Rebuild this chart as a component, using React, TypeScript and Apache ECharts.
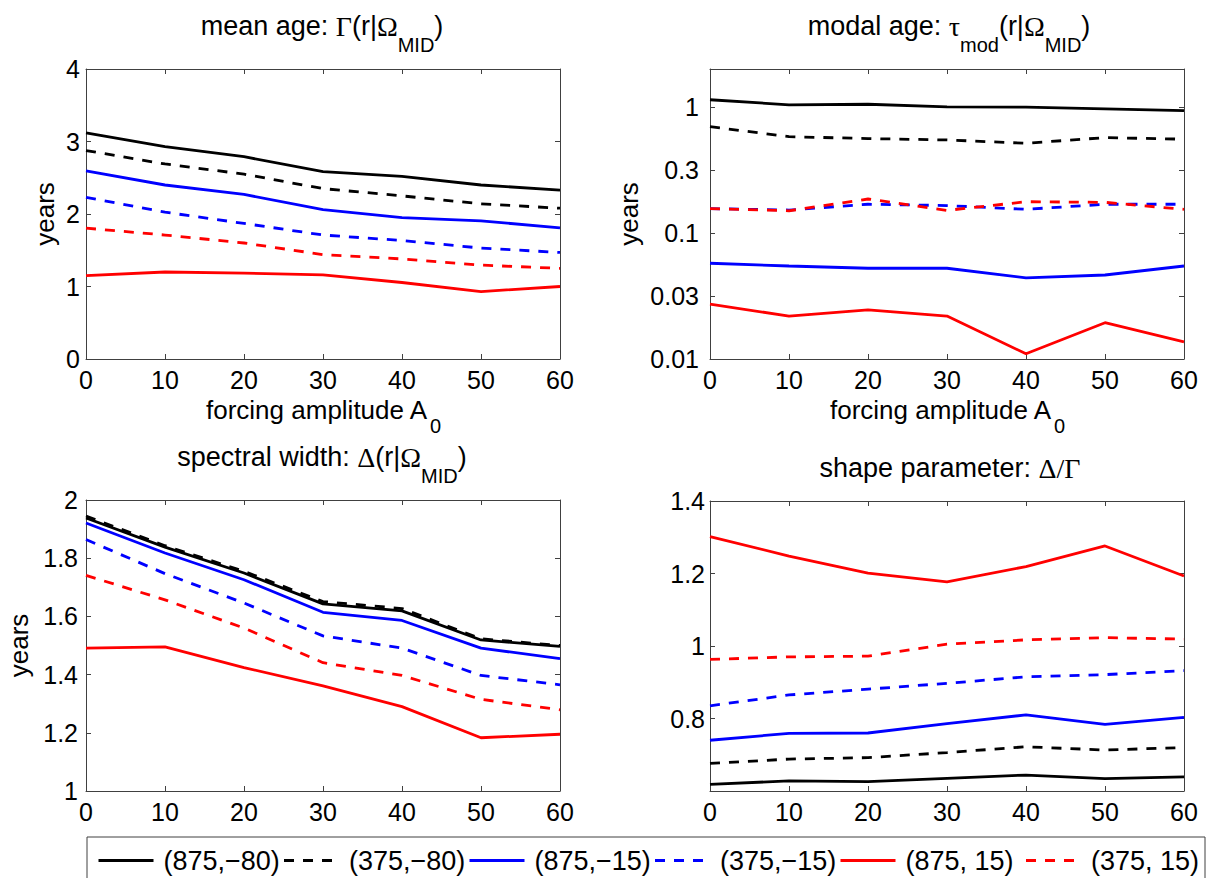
import React, { useEffect, useRef } from 'react';
import * as echarts from 'echarts';

// forcing amplitude A0 (x values shared by all panels)
const amplitudes = [0, 10, 20, 30, 40, 50, 60];

// legend entries (order of plotting)
const seriesNames = ['(875,−80)', '(375,−80)', '(875,−15)', '(375,−15)', '(875, 15)', '(375, 15)'];
const seriesColors = ['#000000', '#000000', '#0000ff', '#0000ff', '#ff0000', '#ff0000'];
const seriesDashed = [false, true, false, true, false, true];

// panel 1: mean age (years)
const meanAge = [
  [3.12, 2.93, 2.79, 2.585, 2.52, 2.40, 2.33],
  [2.875, 2.69, 2.55, 2.35, 2.25, 2.14, 2.08],
  [2.595, 2.40, 2.27, 2.06, 1.95, 1.905, 1.81],
  [2.23, 2.025, 1.87, 1.71, 1.635, 1.53, 1.47],
  [1.15, 1.20, 1.185, 1.16, 1.055, 0.93, 1.00],
  [1.805, 1.71, 1.60, 1.44, 1.38, 1.295, 1.25],
];

// panel 2: modal age (years, log scale)
const modalAge = [
  [1.14, 1.04, 1.05, 1.0, 0.995, 0.965, 0.935],
  [0.698, 0.581, 0.561, 0.547, 0.515, 0.571, 0.555],
  [0.0575, 0.0547, 0.0525, 0.0525, 0.044, 0.0464, 0.0547],
  [0.156, 0.152, 0.169, 0.165, 0.154, 0.169, 0.169],
  [0.0272, 0.0219, 0.0245, 0.0219, 0.011, 0.0194, 0.0137],
  [0.156, 0.150, 0.186, 0.151, 0.177, 0.175, 0.154],
];

// panel 3: spectral width (years)
const spectralWidth = [
  [1.938, 1.838, 1.749, 1.643, 1.619, 1.519, 1.497],
  [1.945, 1.843, 1.755, 1.651, 1.627, 1.523, 1.500],
  [1.921, 1.818, 1.726, 1.614, 1.586, 1.491, 1.455],
  [1.864, 1.747, 1.646, 1.533, 1.491, 1.397, 1.365],
  [1.491, 1.495, 1.424, 1.361, 1.290, 1.183, 1.195],
  [1.741, 1.657, 1.560, 1.441, 1.397, 1.315, 1.279],
];

// panel 4: shape parameter Δ/Γ
const shapeParam = [
  [0.618, 0.628, 0.626, 0.635, 0.644, 0.634, 0.639],
  [0.676, 0.688, 0.692, 0.706, 0.722, 0.713, 0.720],
  [0.740, 0.759, 0.760, 0.786, 0.810, 0.784, 0.803],
  [0.835, 0.865, 0.881, 0.897, 0.915, 0.921, 0.932],
  [1.302, 1.248, 1.201, 1.177, 1.219, 1.276, 1.193],
  [0.963, 0.970, 0.972, 1.005, 1.017, 1.023, 1.019],
];

const xTicks = { min: 0, max: 60, interval: 10 };

const FONT = "'Liberation Sans', Arial, Helvetica, sans-serif";
const SERIF = "'Liberation Serif', 'DejaVu Serif', serif";
const AXIS_COLOR = '#404040';

const titleRich = {
  g: { fontFamily: SERIF, fontSize: 28, color: '#000' },
  sub: { fontFamily: FONT, fontSize: 20, color: '#000', padding: [38, 0, 0, 0] },
};

export default function App() {
  const ref = useRef<HTMLDivElement>(null);

  useEffect(() => {
    document.body.style.margin = '0';
    if (!ref.current) return;
    const chart = echarts.init(ref.current, undefined, { renderer: 'svg' });

    const grids = [
      { left: 86, top: 69, width: 474, height: 290 },
      { left: 710, top: 69, width: 474, height: 290 },
      { left: 86, top: 500, width: 474, height: 291 },
      { left: 710, top: 501, width: 474, height: 290 },
    ];
    const panels = [meanAge, modalAge, spectralWidth, shapeParam];

    const axisLine = { show: true, onZero: false, lineStyle: { color: AXIS_COLOR, width: 1 } };
    const axisTick = { show: true, inside: true, length: 5, lineStyle: { color: AXIS_COLOR, width: 1 } };
    const labelBase = { color: '#000', fontSize: 25, fontFamily: FONT, lineHeight: 20 };

    const xAxes: any[] = [];
    for (let i = 0; i < 4; i++) {
      xAxes.push({
        type: 'value', gridIndex: i, ...xTicks, position: 'bottom',
        axisLine, axisTick, splitLine: { show: false },
        axisLabel: { ...labelBase, margin: 11 },
      });
    }
    for (let i = 0; i < 4; i++) {
      xAxes.push({
        type: 'value', gridIndex: i, ...xTicks, position: 'top',
        axisLine, axisTick, splitLine: { show: false }, axisLabel: { show: false },
      });
    }

    const yName = {
      name: 'years', nameLocation: 'middle',
      nameTextStyle: { color: '#000', fontSize: 26, fontFamily: FONT },
    };
    const logFmt = (v: number) => String(Number(v.toPrecision(1)));
    const yMain: any[] = [
      { type: 'value', min: 0, max: 4, interval: 1, axisLabel: { ...labelBase, margin: 6 }, ...yName, nameGap: 28 },
      { type: 'log', logBase: Math.sqrt(10), min: 0.01, max: 2,
        axisLabel: { ...labelBase, margin: 11, formatter: logFmt, showMaxLabel: false }, ...yName, nameGap: 68 },
      { type: 'value', min: 1, max: 2, interval: 0.2, axisLabel: { ...labelBase, margin: 8 }, ...yName, nameGap: 54 },
      { type: 'value', min: 0.6, max: 1.4, interval: 0.2, axisLabel: { ...labelBase, margin: 5, showMinLabel: false } },
    ];
    const yAxes: any[] = [];
    yMain.forEach((a, i) => {
      yAxes.push({ ...a, gridIndex: i, position: 'left', axisLine, axisTick, splitLine: { show: false } });
    });
    yMain.forEach((a, i) => {
      yAxes.push({
        type: a.type, logBase: a.logBase, min: a.min, max: a.max, interval: a.interval,
        gridIndex: i, position: 'right', axisLine, axisTick,
        splitLine: { show: false }, axisLabel: { show: false },
      });
    });

    const series: any[] = [];
    panels.forEach((panel, p) => {
      panel.forEach((vals, s) => {
        series.push({
          type: 'line', name: seriesNames[s], xAxisIndex: p, yAxisIndex: p,
          data: amplitudes.map((x, j) => [x, vals[j]]),
          symbol: 'none', showSymbol: false, z: 2 + s,
          lineStyle: { color: seriesColors[s], width: 2.8, type: seriesDashed[s] ? [10, 9] : 'solid' },
          itemStyle: { color: seriesColors[s] },
          emphasis: { disabled: true },
        });
      });
    });

    // one legend per entry so the entries sit in equal slots, as in the reference
    const legends = seriesNames.map((name, i) => ({
      data: [name], left: 97 + i * 185.5, top: 847, orient: 'horizontal',
      itemWidth: 55, itemHeight: 22, padding: 0, selectedMode: false,
      itemStyle: { opacity: 0 },
      lineStyle: { width: 3 },
      textStyle: { fontSize: 27, fontFamily: FONT, color: '#000', padding: [0, 0, 0, 5] },
    }));

    const titleText = (text: string, x: number, y: number) => ({
      type: 'text', x, y,
      style: {
        text, align: 'center', verticalAlign: 'middle',
        fontSize: 27, fontFamily: FONT, fill: '#000', rich: titleRich,
      },
    });

    // x-axis name "forcing amplitude A0" (main text + subscript) under the top panels
    const xNameMainWidth = 223;
    const xName = (grid: { left: number; width: number; top: number; height: number }) => {
      const cx = grid.left + grid.width / 2;
      const left = cx - 117;
      const base = grid.top + grid.height;
      return [
        {
          type: 'text', x: left, y: base + 51,
          style: {
            text: 'forcing amplitude A', align: 'left', verticalAlign: 'middle',
            fontSize: 26, fontFamily: FONT, fill: '#000', lineHeight: 22,
          },
        },
        {
          type: 'text', x: left + xNameMainWidth + 1, y: base + 67,
          style: {
            text: '0', align: 'left', verticalAlign: 'middle',
            fontSize: 20, fontFamily: FONT, fill: '#000', lineHeight: 16,
          },
        },
      ];
    };

    chart.setOption({
      animation: false,
      backgroundColor: '#ffffff',
      grid: grids,
      xAxis: xAxes,
      yAxis: yAxes,
      series,
      legend: legends,
      graphic: [
        titleText('mean age: {g|Γ}(r|{g|Ω}{sub|MID})', 322, 26),
        titleText('modal age: {g|τ}{sub|mod}(r|{g|Ω}{sub|MID})', 949, 26),
        titleText('spectral width: {g|Δ}(r|{g|Ω}{sub|MID})', 322, 457),
        titleText('shape parameter: {g|Δ/Γ}', 950, 468),
        ...xName(grids[0]),
        ...xName(grids[1]),
        {
          type: 'rect', shape: { x: 87, y: 837, width: 1118, height: 60 },
          style: { fill: 'none', stroke: AXIS_COLOR, lineWidth: 1 }, silent: true,
        },
      ],
    });

    return () => chart.dispose();
  }, []);

  return <div ref={ref} style={{ width: 1214, height: 878 }} />;
}
